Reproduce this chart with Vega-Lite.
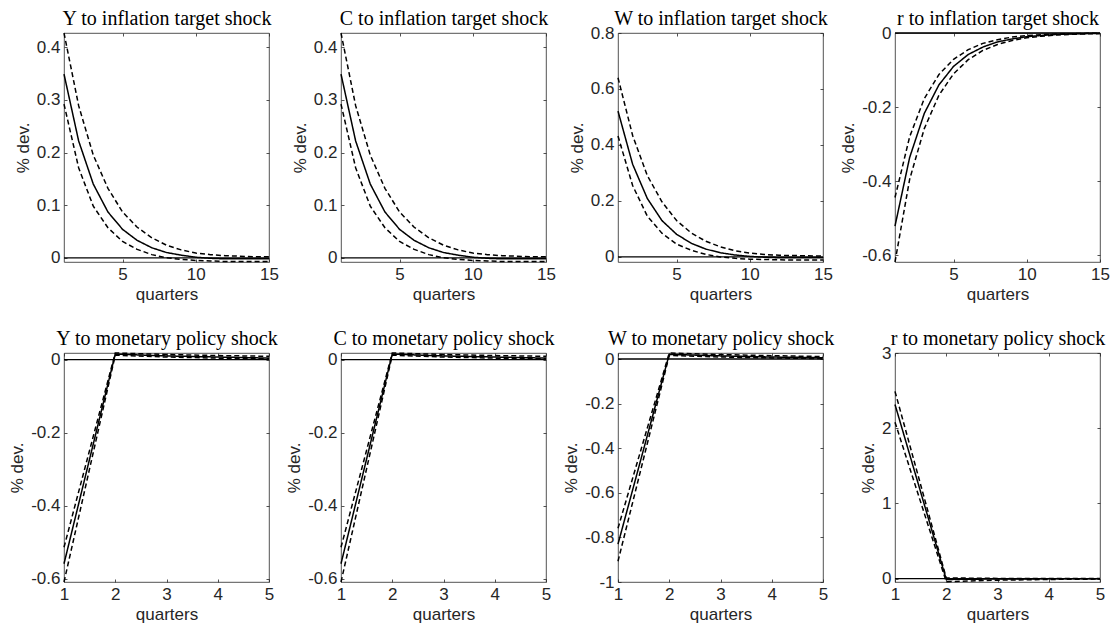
{
  "$schema": "https://vega.github.io/schema/vega-lite/v6.json",
  "background": "white",
  "padding": {"left": 8, "top": 8, "right": 5, "bottom": 5},
  "datasets": {
    "irf": [
      {"p":"Y_pi","s":"median","q":1,"v":0.349},{"p":"Y_pi","s":"median","q":2,"v":0.222},{"p":"Y_pi","s":"median","q":3,"v":0.140},{"p":"Y_pi","s":"median","q":4,"v":0.087},{"p":"Y_pi","s":"median","q":5,"v":0.054},{"p":"Y_pi","s":"median","q":6,"v":0.033},{"p":"Y_pi","s":"median","q":7,"v":0.019},{"p":"Y_pi","s":"median","q":8,"v":0.010},{"p":"Y_pi","s":"median","q":9,"v":0.005},{"p":"Y_pi","s":"median","q":10,"v":0.001},{"p":"Y_pi","s":"median","q":11,"v":-0.001},{"p":"Y_pi","s":"median","q":12,"v":-0.002},{"p":"Y_pi","s":"median","q":13,"v":-0.002},{"p":"Y_pi","s":"median","q":14,"v":-0.002},{"p":"Y_pi","s":"median","q":15,"v":-0.002},
      {"p":"Y_pi","s":"upper","q":1,"v":0.427},{"p":"Y_pi","s":"upper","q":2,"v":0.289},{"p":"Y_pi","s":"upper","q":3,"v":0.195},{"p":"Y_pi","s":"upper","q":4,"v":0.132},{"p":"Y_pi","s":"upper","q":5,"v":0.087},{"p":"Y_pi","s":"upper","q":6,"v":0.058},{"p":"Y_pi","s":"upper","q":7,"v":0.038},{"p":"Y_pi","s":"upper","q":8,"v":0.024},{"p":"Y_pi","s":"upper","q":9,"v":0.015},{"p":"Y_pi","s":"upper","q":10,"v":0.009},{"p":"Y_pi","s":"upper","q":11,"v":0.006},{"p":"Y_pi","s":"upper","q":12,"v":0.004},{"p":"Y_pi","s":"upper","q":13,"v":0.003},{"p":"Y_pi","s":"upper","q":14,"v":0.002},{"p":"Y_pi","s":"upper","q":15,"v":0.002},
      {"p":"Y_pi","s":"lower","q":1,"v":0.292},{"p":"Y_pi","s":"lower","q":2,"v":0.171},{"p":"Y_pi","s":"lower","q":3,"v":0.098},{"p":"Y_pi","s":"lower","q":4,"v":0.057},{"p":"Y_pi","s":"lower","q":5,"v":0.031},{"p":"Y_pi","s":"lower","q":6,"v":0.016},{"p":"Y_pi","s":"lower","q":7,"v":0.006},{"p":"Y_pi","s":"lower","q":8,"v":0.000},{"p":"Y_pi","s":"lower","q":9,"v":-0.003},{"p":"Y_pi","s":"lower","q":10,"v":-0.005},{"p":"Y_pi","s":"lower","q":11,"v":-0.006},{"p":"Y_pi","s":"lower","q":12,"v":-0.007},{"p":"Y_pi","s":"lower","q":13,"v":-0.007},{"p":"Y_pi","s":"lower","q":14,"v":-0.007},{"p":"Y_pi","s":"lower","q":15,"v":-0.007},

      {"p":"C_pi","s":"median","q":1,"v":0.349},{"p":"C_pi","s":"median","q":2,"v":0.222},{"p":"C_pi","s":"median","q":3,"v":0.140},{"p":"C_pi","s":"median","q":4,"v":0.087},{"p":"C_pi","s":"median","q":5,"v":0.054},{"p":"C_pi","s":"median","q":6,"v":0.033},{"p":"C_pi","s":"median","q":7,"v":0.019},{"p":"C_pi","s":"median","q":8,"v":0.010},{"p":"C_pi","s":"median","q":9,"v":0.005},{"p":"C_pi","s":"median","q":10,"v":0.001},{"p":"C_pi","s":"median","q":11,"v":-0.001},{"p":"C_pi","s":"median","q":12,"v":-0.002},{"p":"C_pi","s":"median","q":13,"v":-0.002},{"p":"C_pi","s":"median","q":14,"v":-0.002},{"p":"C_pi","s":"median","q":15,"v":-0.002},
      {"p":"C_pi","s":"upper","q":1,"v":0.427},{"p":"C_pi","s":"upper","q":2,"v":0.289},{"p":"C_pi","s":"upper","q":3,"v":0.195},{"p":"C_pi","s":"upper","q":4,"v":0.132},{"p":"C_pi","s":"upper","q":5,"v":0.087},{"p":"C_pi","s":"upper","q":6,"v":0.058},{"p":"C_pi","s":"upper","q":7,"v":0.038},{"p":"C_pi","s":"upper","q":8,"v":0.024},{"p":"C_pi","s":"upper","q":9,"v":0.015},{"p":"C_pi","s":"upper","q":10,"v":0.009},{"p":"C_pi","s":"upper","q":11,"v":0.006},{"p":"C_pi","s":"upper","q":12,"v":0.004},{"p":"C_pi","s":"upper","q":13,"v":0.003},{"p":"C_pi","s":"upper","q":14,"v":0.002},{"p":"C_pi","s":"upper","q":15,"v":0.002},
      {"p":"C_pi","s":"lower","q":1,"v":0.292},{"p":"C_pi","s":"lower","q":2,"v":0.171},{"p":"C_pi","s":"lower","q":3,"v":0.098},{"p":"C_pi","s":"lower","q":4,"v":0.057},{"p":"C_pi","s":"lower","q":5,"v":0.031},{"p":"C_pi","s":"lower","q":6,"v":0.016},{"p":"C_pi","s":"lower","q":7,"v":0.006},{"p":"C_pi","s":"lower","q":8,"v":0.000},{"p":"C_pi","s":"lower","q":9,"v":-0.003},{"p":"C_pi","s":"lower","q":10,"v":-0.005},{"p":"C_pi","s":"lower","q":11,"v":-0.006},{"p":"C_pi","s":"lower","q":12,"v":-0.007},{"p":"C_pi","s":"lower","q":13,"v":-0.007},{"p":"C_pi","s":"lower","q":14,"v":-0.007},{"p":"C_pi","s":"lower","q":15,"v":-0.007},

      {"p":"W_pi","s":"median","q":1,"v":0.521},{"p":"W_pi","s":"median","q":2,"v":0.331},{"p":"W_pi","s":"median","q":3,"v":0.209},{"p":"W_pi","s":"median","q":4,"v":0.130},{"p":"W_pi","s":"median","q":5,"v":0.081},{"p":"W_pi","s":"median","q":6,"v":0.049},{"p":"W_pi","s":"median","q":7,"v":0.028},{"p":"W_pi","s":"median","q":8,"v":0.015},{"p":"W_pi","s":"median","q":9,"v":0.007},{"p":"W_pi","s":"median","q":10,"v":0.002},{"p":"W_pi","s":"median","q":11,"v":-0.001},{"p":"W_pi","s":"median","q":12,"v":-0.003},{"p":"W_pi","s":"median","q":13,"v":-0.003},{"p":"W_pi","s":"median","q":14,"v":-0.003},{"p":"W_pi","s":"median","q":15,"v":-0.003},
      {"p":"W_pi","s":"upper","q":1,"v":0.640},{"p":"W_pi","s":"upper","q":2,"v":0.434},{"p":"W_pi","s":"upper","q":3,"v":0.291},{"p":"W_pi","s":"upper","q":4,"v":0.197},{"p":"W_pi","s":"upper","q":5,"v":0.130},{"p":"W_pi","s":"upper","q":6,"v":0.086},{"p":"W_pi","s":"upper","q":7,"v":0.056},{"p":"W_pi","s":"upper","q":8,"v":0.036},{"p":"W_pi","s":"upper","q":9,"v":0.022},{"p":"W_pi","s":"upper","q":10,"v":0.014},{"p":"W_pi","s":"upper","q":11,"v":0.009},{"p":"W_pi","s":"upper","q":12,"v":0.006},{"p":"W_pi","s":"upper","q":13,"v":0.005},{"p":"W_pi","s":"upper","q":14,"v":0.004},{"p":"W_pi","s":"upper","q":15,"v":0.003},
      {"p":"W_pi","s":"lower","q":1,"v":0.432},{"p":"W_pi","s":"lower","q":2,"v":0.255},{"p":"W_pi","s":"lower","q":3,"v":0.146},{"p":"W_pi","s":"lower","q":4,"v":0.085},{"p":"W_pi","s":"lower","q":5,"v":0.046},{"p":"W_pi","s":"lower","q":6,"v":0.024},{"p":"W_pi","s":"lower","q":7,"v":0.009},{"p":"W_pi","s":"lower","q":8,"v":0.000},{"p":"W_pi","s":"lower","q":9,"v":-0.005},{"p":"W_pi","s":"lower","q":10,"v":-0.008},{"p":"W_pi","s":"lower","q":11,"v":-0.009},{"p":"W_pi","s":"lower","q":12,"v":-0.010},{"p":"W_pi","s":"lower","q":13,"v":-0.011},{"p":"W_pi","s":"lower","q":14,"v":-0.011},{"p":"W_pi","s":"lower","q":15,"v":-0.011},

      {"p":"r_pi","s":"median","q":1,"v":-0.521},{"p":"r_pi","s":"median","q":2,"v":-0.336},{"p":"r_pi","s":"median","q":3,"v":-0.217},{"p":"r_pi","s":"median","q":4,"v":-0.140},{"p":"r_pi","s":"median","q":5,"v":-0.090},{"p":"r_pi","s":"median","q":6,"v":-0.058},{"p":"r_pi","s":"median","q":7,"v":-0.038},{"p":"r_pi","s":"median","q":8,"v":-0.024},{"p":"r_pi","s":"median","q":9,"v":-0.016},{"p":"r_pi","s":"median","q":10,"v":-0.010},{"p":"r_pi","s":"median","q":11,"v":-0.0065},{"p":"r_pi","s":"median","q":12,"v":-0.0042},{"p":"r_pi","s":"median","q":13,"v":-0.0027},{"p":"r_pi","s":"median","q":14,"v":-0.0017},{"p":"r_pi","s":"median","q":15,"v":-0.0011},
      {"p":"r_pi","s":"upper","q":1,"v":-0.444},{"p":"r_pi","s":"upper","q":2,"v":-0.280},{"p":"r_pi","s":"upper","q":3,"v":-0.177},{"p":"r_pi","s":"upper","q":4,"v":-0.112},{"p":"r_pi","s":"upper","q":5,"v":-0.071},{"p":"r_pi","s":"upper","q":6,"v":-0.045},{"p":"r_pi","s":"upper","q":7,"v":-0.028},{"p":"r_pi","s":"upper","q":8,"v":-0.018},{"p":"r_pi","s":"upper","q":9,"v":-0.011},{"p":"r_pi","s":"upper","q":10,"v":-0.007},{"p":"r_pi","s":"upper","q":11,"v":-0.0045},{"p":"r_pi","s":"upper","q":12,"v":-0.0028},{"p":"r_pi","s":"upper","q":13,"v":-0.0018},{"p":"r_pi","s":"upper","q":14,"v":-0.0011},{"p":"r_pi","s":"upper","q":15,"v":-0.0007},
      {"p":"r_pi","s":"lower","q":1,"v":-0.618},{"p":"r_pi","s":"lower","q":2,"v":-0.395},{"p":"r_pi","s":"lower","q":3,"v":-0.258},{"p":"r_pi","s":"lower","q":4,"v":-0.168},{"p":"r_pi","s":"lower","q":5,"v":-0.110},{"p":"r_pi","s":"lower","q":6,"v":-0.072},{"p":"r_pi","s":"lower","q":7,"v":-0.047},{"p":"r_pi","s":"lower","q":8,"v":-0.031},{"p":"r_pi","s":"lower","q":9,"v":-0.020},{"p":"r_pi","s":"lower","q":10,"v":-0.013},{"p":"r_pi","s":"lower","q":11,"v":-0.0085},{"p":"r_pi","s":"lower","q":12,"v":-0.0056},{"p":"r_pi","s":"lower","q":13,"v":-0.0037},{"p":"r_pi","s":"lower","q":14,"v":-0.0024},{"p":"r_pi","s":"lower","q":15,"v":-0.0016},

      {"p":"Y_mp","s":"median","q":1,"v":-0.559},{"p":"Y_mp","s":"median","q":2,"v":0.015},{"p":"Y_mp","s":"median","q":3,"v":0.010},{"p":"Y_mp","s":"median","q":4,"v":0.007},{"p":"Y_mp","s":"median","q":5,"v":0.004},
      {"p":"Y_mp","s":"upper","q":1,"v":-0.514},{"p":"Y_mp","s":"upper","q":2,"v":0.018},{"p":"Y_mp","s":"upper","q":3,"v":0.014},{"p":"Y_mp","s":"upper","q":4,"v":0.011},{"p":"Y_mp","s":"upper","q":5,"v":0.009},
      {"p":"Y_mp","s":"lower","q":1,"v":-0.609},{"p":"Y_mp","s":"lower","q":2,"v":0.012},{"p":"Y_mp","s":"lower","q":3,"v":0.007},{"p":"Y_mp","s":"lower","q":4,"v":0.004},{"p":"Y_mp","s":"lower","q":5,"v":0.002},

      {"p":"C_mp","s":"median","q":1,"v":-0.559},{"p":"C_mp","s":"median","q":2,"v":0.015},{"p":"C_mp","s":"median","q":3,"v":0.010},{"p":"C_mp","s":"median","q":4,"v":0.007},{"p":"C_mp","s":"median","q":5,"v":0.004},
      {"p":"C_mp","s":"upper","q":1,"v":-0.514},{"p":"C_mp","s":"upper","q":2,"v":0.018},{"p":"C_mp","s":"upper","q":3,"v":0.014},{"p":"C_mp","s":"upper","q":4,"v":0.011},{"p":"C_mp","s":"upper","q":5,"v":0.009},
      {"p":"C_mp","s":"lower","q":1,"v":-0.609},{"p":"C_mp","s":"lower","q":2,"v":0.012},{"p":"C_mp","s":"lower","q":3,"v":0.007},{"p":"C_mp","s":"lower","q":4,"v":0.004},{"p":"C_mp","s":"lower","q":5,"v":0.002},

      {"p":"W_mp","s":"median","q":1,"v":-0.830},{"p":"W_mp","s":"median","q":2,"v":0.021},{"p":"W_mp","s":"median","q":3,"v":0.014},{"p":"W_mp","s":"median","q":4,"v":0.009},{"p":"W_mp","s":"median","q":5,"v":0.006},
      {"p":"W_mp","s":"upper","q":1,"v":-0.759},{"p":"W_mp","s":"upper","q":2,"v":0.027},{"p":"W_mp","s":"upper","q":3,"v":0.020},{"p":"W_mp","s":"upper","q":4,"v":0.015},{"p":"W_mp","s":"upper","q":5,"v":0.011},
      {"p":"W_mp","s":"lower","q":1,"v":-0.907},{"p":"W_mp","s":"lower","q":2,"v":0.016},{"p":"W_mp","s":"lower","q":3,"v":0.009},{"p":"W_mp","s":"lower","q":4,"v":0.005},{"p":"W_mp","s":"lower","q":5,"v":0.002},

      {"p":"r_mp","s":"median","q":1,"v":2.316},{"p":"r_mp","s":"median","q":2,"v":-0.010},{"p":"r_mp","s":"median","q":3,"v":-0.004},{"p":"r_mp","s":"median","q":4,"v":-0.002},{"p":"r_mp","s":"median","q":5,"v":-0.001},
      {"p":"r_mp","s":"upper","q":1,"v":2.490},{"p":"r_mp","s":"upper","q":2,"v":0.010},{"p":"r_mp","s":"upper","q":3,"v":0.004},{"p":"r_mp","s":"upper","q":4,"v":0.002},{"p":"r_mp","s":"upper","q":5,"v":0.001},
      {"p":"r_mp","s":"lower","q":1,"v":2.080},{"p":"r_mp","s":"lower","q":2,"v":-0.040},{"p":"r_mp","s":"lower","q":3,"v":-0.020},{"p":"r_mp","s":"lower","q":4,"v":-0.010},{"p":"r_mp","s":"lower","q":5,"v":-0.005}
    ]
  },
  "data": {"name": "irf"},
  "columns": 4,
  "bounds": "flush",
  "spacing": {"row": 91, "column": 72},
  "concat": [
    {
      "width": 205, "height": 229,
      "transform": [{"filter": "datum.p === 'Y_pi'"}],
      "layer": [
        {
          "transform": [{"filter": "datum.s === 'median'"}],
          "mark": {"type": "line", "color": "black", "strokeWidth": 1.3},
          "encoding": {
            "x": {"field": "q", "type": "quantitative", "scale": {"domain": [1, 15], "nice": false, "zero": false}, "axis": {"orient": "top", "values": [5, 10, 15], "labels": false, "title": "Y to inflation target shock"}},
            "y": {"datum": 0, "type": "quantitative", "scale": {"domain": [-0.008, 0.427], "nice": false, "zero": false}, "axis": {"orient": "right", "values": [0, 0.1, 0.2, 0.3, 0.4], "labels": false, "title": null}}
          }
        },
        {
          "mark": {"type": "line", "color": "black", "strokeWidth": 1.5},
          "encoding": {
            "x": {"field": "q", "type": "quantitative", "scale": {"domain": [1, 15], "nice": false, "zero": false}, "axis": {"orient": "bottom", "values": [5, 10, 15], "title": "quarters"}},
            "y": {"field": "v", "type": "quantitative", "scale": {"domain": [-0.008, 0.427], "nice": false, "zero": false}, "axis": {"orient": "left", "values": [0, 0.1, 0.2, 0.3, 0.4], "title": "% dev."}},
            "detail": {"field": "s"},
            "strokeDash": {"field": "s", "type": "nominal", "scale": {"domain": ["median", "lower", "upper"], "range": [[1, 0], [5, 3], [5, 3]]}, "legend": null}
          }
        }
      ],
      "resolve": {"scale": {"x": "independent", "y": "independent"}}
    },
    {
      "width": 205, "height": 229,
      "transform": [{"filter": "datum.p === 'C_pi'"}],
      "layer": [
        {
          "transform": [{"filter": "datum.s === 'median'"}],
          "mark": {"type": "line", "color": "black", "strokeWidth": 1.3},
          "encoding": {
            "x": {"field": "q", "type": "quantitative", "scale": {"domain": [1, 15], "nice": false, "zero": false}, "axis": {"orient": "top", "values": [5, 10, 15], "labels": false, "title": "C to inflation target shock"}},
            "y": {"datum": 0, "type": "quantitative", "scale": {"domain": [-0.008, 0.427], "nice": false, "zero": false}, "axis": {"orient": "right", "values": [0, 0.1, 0.2, 0.3, 0.4], "labels": false, "title": null}}
          }
        },
        {
          "mark": {"type": "line", "color": "black", "strokeWidth": 1.5},
          "encoding": {
            "x": {"field": "q", "type": "quantitative", "scale": {"domain": [1, 15], "nice": false, "zero": false}, "axis": {"orient": "bottom", "values": [5, 10, 15], "title": "quarters"}},
            "y": {"field": "v", "type": "quantitative", "scale": {"domain": [-0.008, 0.427], "nice": false, "zero": false}, "axis": {"orient": "left", "values": [0, 0.1, 0.2, 0.3, 0.4], "title": "% dev."}},
            "detail": {"field": "s"},
            "strokeDash": {"field": "s", "type": "nominal", "scale": {"domain": ["median", "lower", "upper"], "range": [[1, 0], [5, 3], [5, 3]]}, "legend": null}
          }
        }
      ],
      "resolve": {"scale": {"x": "independent", "y": "independent"}}
    },
    {
      "width": 205, "height": 229,
      "transform": [{"filter": "datum.p === 'W_pi'"}],
      "layer": [
        {
          "transform": [{"filter": "datum.s === 'median'"}],
          "mark": {"type": "line", "color": "black", "strokeWidth": 1.3},
          "encoding": {
            "x": {"field": "q", "type": "quantitative", "scale": {"domain": [1, 15], "nice": false, "zero": false}, "axis": {"orient": "top", "values": [5, 10, 15], "labels": false, "title": "W to inflation target shock"}},
            "y": {"datum": 0, "type": "quantitative", "scale": {"domain": [-0.018, 0.8], "nice": false, "zero": false}, "axis": {"orient": "right", "values": [0, 0.2, 0.4, 0.6, 0.8], "labels": false, "title": null}}
          }
        },
        {
          "mark": {"type": "line", "color": "black", "strokeWidth": 1.5},
          "encoding": {
            "x": {"field": "q", "type": "quantitative", "scale": {"domain": [1, 15], "nice": false, "zero": false}, "axis": {"orient": "bottom", "values": [5, 10, 15], "title": "quarters"}},
            "y": {"field": "v", "type": "quantitative", "scale": {"domain": [-0.018, 0.8], "nice": false, "zero": false}, "axis": {"orient": "left", "values": [0, 0.2, 0.4, 0.6, 0.8], "title": "% dev."}},
            "detail": {"field": "s"},
            "strokeDash": {"field": "s", "type": "nominal", "scale": {"domain": ["median", "lower", "upper"], "range": [[1, 0], [5, 3], [5, 3]]}, "legend": null}
          }
        }
      ],
      "resolve": {"scale": {"x": "independent", "y": "independent"}}
    },
    {
      "width": 205, "height": 229,
      "transform": [{"filter": "datum.p === 'r_pi'"}],
      "layer": [
        {
          "transform": [{"filter": "datum.s === 'median'"}],
          "mark": {"type": "line", "color": "black", "strokeWidth": 1.5},
          "encoding": {
            "x": {"field": "q", "type": "quantitative", "scale": {"domain": [1, 15], "nice": false, "zero": false}, "axis": {"orient": "top", "values": [5, 10, 15], "labels": false, "title": "r to inflation target shock"}},
            "y": {"datum": 0, "type": "quantitative", "scale": {"domain": [-0.618, 0], "nice": false, "zero": false}, "axis": {"orient": "right", "values": [-0.6, -0.4, -0.2, 0], "labels": false, "title": null}}
          }
        },
        {
          "mark": {"type": "line", "color": "black", "strokeWidth": 1.5},
          "encoding": {
            "x": {"field": "q", "type": "quantitative", "scale": {"domain": [1, 15], "nice": false, "zero": false}, "axis": {"orient": "bottom", "values": [5, 10, 15], "title": "quarters"}},
            "y": {"field": "v", "type": "quantitative", "scale": {"domain": [-0.618, 0], "nice": false, "zero": false}, "axis": {"orient": "left", "values": [-0.6, -0.4, -0.2, 0], "title": "% dev."}},
            "detail": {"field": "s"},
            "strokeDash": {"field": "s", "type": "nominal", "scale": {"domain": ["median", "lower", "upper"], "range": [[1, 0], [5, 3], [5, 3]]}, "legend": null}
          }
        }
      ],
      "resolve": {"scale": {"x": "independent", "y": "independent"}}
    },
    {
      "width": 205, "height": 229,
      "transform": [{"filter": "datum.p === 'Y_mp'"}],
      "layer": [
        {
          "transform": [{"filter": "datum.s === 'median'"}],
          "mark": {"type": "line", "color": "black", "strokeWidth": 1.3},
          "encoding": {
            "x": {"field": "q", "type": "quantitative", "scale": {"domain": [1, 5], "nice": false, "zero": false}, "axis": {"orient": "top", "values": [1, 2, 3, 4, 5], "labels": false, "title": "Y to monetary policy shock"}},
            "y": {"datum": 0, "type": "quantitative", "scale": {"domain": [-0.609, 0.018], "nice": false, "zero": false}, "axis": {"orient": "right", "values": [-0.6, -0.4, -0.2, 0], "labels": false, "title": null}}
          }
        },
        {
          "mark": {"type": "line", "color": "black", "strokeWidth": 1.5},
          "encoding": {
            "x": {"field": "q", "type": "quantitative", "scale": {"domain": [1, 5], "nice": false, "zero": false}, "axis": {"orient": "bottom", "values": [1, 2, 3, 4, 5], "title": "quarters"}},
            "y": {"field": "v", "type": "quantitative", "scale": {"domain": [-0.609, 0.018], "nice": false, "zero": false}, "axis": {"orient": "left", "values": [-0.6, -0.4, -0.2, 0], "title": "% dev."}},
            "detail": {"field": "s"},
            "strokeDash": {"field": "s", "type": "nominal", "scale": {"domain": ["median", "lower", "upper"], "range": [[1, 0], [5, 3], [5, 3]]}, "legend": null}
          }
        }
      ],
      "resolve": {"scale": {"x": "independent", "y": "independent"}}
    },
    {
      "width": 205, "height": 229,
      "transform": [{"filter": "datum.p === 'C_mp'"}],
      "layer": [
        {
          "transform": [{"filter": "datum.s === 'median'"}],
          "mark": {"type": "line", "color": "black", "strokeWidth": 1.3},
          "encoding": {
            "x": {"field": "q", "type": "quantitative", "scale": {"domain": [1, 5], "nice": false, "zero": false}, "axis": {"orient": "top", "values": [1, 2, 3, 4, 5], "labels": false, "title": "C to monetary policy shock"}},
            "y": {"datum": 0, "type": "quantitative", "scale": {"domain": [-0.609, 0.018], "nice": false, "zero": false}, "axis": {"orient": "right", "values": [-0.6, -0.4, -0.2, 0], "labels": false, "title": null}}
          }
        },
        {
          "mark": {"type": "line", "color": "black", "strokeWidth": 1.5},
          "encoding": {
            "x": {"field": "q", "type": "quantitative", "scale": {"domain": [1, 5], "nice": false, "zero": false}, "axis": {"orient": "bottom", "values": [1, 2, 3, 4, 5], "title": "quarters"}},
            "y": {"field": "v", "type": "quantitative", "scale": {"domain": [-0.609, 0.018], "nice": false, "zero": false}, "axis": {"orient": "left", "values": [-0.6, -0.4, -0.2, 0], "title": "% dev."}},
            "detail": {"field": "s"},
            "strokeDash": {"field": "s", "type": "nominal", "scale": {"domain": ["median", "lower", "upper"], "range": [[1, 0], [5, 3], [5, 3]]}, "legend": null}
          }
        }
      ],
      "resolve": {"scale": {"x": "independent", "y": "independent"}}
    },
    {
      "width": 205, "height": 229,
      "transform": [{"filter": "datum.p === 'W_mp'"}],
      "layer": [
        {
          "transform": [{"filter": "datum.s === 'median'"}],
          "mark": {"type": "line", "color": "black", "strokeWidth": 1.3},
          "encoding": {
            "x": {"field": "q", "type": "quantitative", "scale": {"domain": [1, 5], "nice": false, "zero": false}, "axis": {"orient": "top", "values": [1, 2, 3, 4, 5], "labels": false, "title": "W to monetary policy shock"}},
            "y": {"datum": 0, "type": "quantitative", "scale": {"domain": [-1, 0.027], "nice": false, "zero": false}, "axis": {"orient": "right", "values": [-1, -0.8, -0.6, -0.4, -0.2, 0], "labels": false, "title": null}}
          }
        },
        {
          "mark": {"type": "line", "color": "black", "strokeWidth": 1.5},
          "encoding": {
            "x": {"field": "q", "type": "quantitative", "scale": {"domain": [1, 5], "nice": false, "zero": false}, "axis": {"orient": "bottom", "values": [1, 2, 3, 4, 5], "title": "quarters"}},
            "y": {"field": "v", "type": "quantitative", "scale": {"domain": [-1, 0.027], "nice": false, "zero": false}, "axis": {"orient": "left", "values": [-1, -0.8, -0.6, -0.4, -0.2, 0], "title": "% dev."}},
            "detail": {"field": "s"},
            "strokeDash": {"field": "s", "type": "nominal", "scale": {"domain": ["median", "lower", "upper"], "range": [[1, 0], [5, 3], [5, 3]]}, "legend": null}
          }
        }
      ],
      "resolve": {"scale": {"x": "independent", "y": "independent"}}
    },
    {
      "width": 205, "height": 229,
      "transform": [{"filter": "datum.p === 'r_mp'"}],
      "layer": [
        {
          "transform": [{"filter": "datum.s === 'median'"}],
          "mark": {"type": "line", "color": "black", "strokeWidth": 1.3},
          "encoding": {
            "x": {"field": "q", "type": "quantitative", "scale": {"domain": [1, 5], "nice": false, "zero": false}, "axis": {"orient": "top", "values": [1, 2, 3, 4, 5], "labels": false, "title": "r to monetary policy shock"}},
            "y": {"datum": 0, "type": "quantitative", "scale": {"domain": [-0.044, 3], "nice": false, "zero": false}, "axis": {"orient": "right", "values": [0, 1, 2, 3], "labels": false, "title": null}}
          }
        },
        {
          "mark": {"type": "line", "color": "black", "strokeWidth": 1.5},
          "encoding": {
            "x": {"field": "q", "type": "quantitative", "scale": {"domain": [1, 5], "nice": false, "zero": false}, "axis": {"orient": "bottom", "values": [1, 2, 3, 4, 5], "title": "quarters"}},
            "y": {"field": "v", "type": "quantitative", "scale": {"domain": [-0.044, 3], "nice": false, "zero": false}, "axis": {"orient": "left", "values": [0, 1, 2, 3], "title": "% dev."}},
            "detail": {"field": "s"},
            "strokeDash": {"field": "s", "type": "nominal", "scale": {"domain": ["median", "lower", "upper"], "range": [[1, 0], [5, 3], [5, 3]]}, "legend": null}
          }
        }
      ],
      "resolve": {"scale": {"x": "independent", "y": "independent"}}
    }
  ],
  "config": {
    "font": "Liberation Sans",
    "view": {"stroke": "#262626", "strokeWidth": 0.8},
    "axis": {
      "grid": false,
      "domain": false,
      "tickSize": -3,
      "tickColor": "#262626",
      "tickWidth": 0.8,
      "labelFont": "Liberation Sans",
      "labelFontSize": 17,
      "labelColor": "#262626",
      "labelPadding": 7,
      "labelFlush": false,
      "labelOverlap": false,
      "labelExpr": "datum.value + ''",
      "titleFont": "Liberation Sans",
      "titleFontSize": 17,
      "titleFontWeight": "normal",
      "titleColor": "#262626",
      "titlePadding": 4
    },
    "axisTop": {
      "titleFont": "Liberation Serif",
      "titleFontSize": 20,
      "titleFontWeight": "normal",
      "titleColor": "black",
      "titlePadding": 4
    }
  }
}
